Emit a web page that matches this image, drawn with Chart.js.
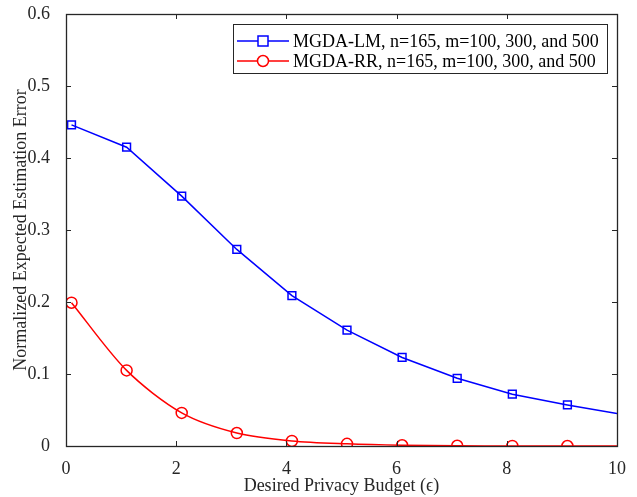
<!DOCTYPE html>
<html>
<head>
<meta charset="utf-8">
<script src="https://cdn.jsdelivr.net/npm/chart.js@4.4.1/dist/chart.umd.min.js"></script>
<style>
  html, body { margin: 0; padding: 0; background: #fff; }
  #wrap { width: 637px; height: 497px; }
</style>
</head>
<body>
<div id="wrap"><canvas id="errChart" width="637" height="497"></canvas></div>
<script>
// privacy budget values (markers every 1.0, line continues to 10)
const budgets = [0.1, 1.1, 2.1, 3.1, 4.1, 5.1, 6.1, 7.1, 8.1, 9.1, 10];
const lmError = [0.446, 0.415, 0.347, 0.273, 0.209, 0.161, 0.123, 0.094, 0.072, 0.057, 0.045];
const rrError = [0.199, 0.105, 0.046, 0.018, 0.007, 0.003, 0.001, 0.0003, 0.0001, 0.0, 0.0];
const xTicks = [0, 2, 4, 6, 8, 10];
const yTicks = [0, 0.1, 0.2, 0.3, 0.4, 0.5, 0.6];
const seriesLabels = [
  'MGDA-LM, n=165, m=100, 300, and 500',
  'MGDA-RR, n=165, m=100, 300, and 500'
];

const serif = "'Liberation Serif', 'Times New Roman', serif";
const axisColor = '#262626';

function toPoints(xs, ys) {
  return xs.map((x, i) => ({ x: x, y: ys[i] }));
}
// no marker on the final segment end
const radii = budgets.map((b, i) => (i === budgets.length - 1 ? 0 : 5.5));

// box + inward ticks, MATLAB style
const boxPlugin = {
  id: 'boxTicks',
  afterDraw(chart) {
    const { ctx, chartArea: a, scales } = chart;
    ctx.save();
    ctx.strokeStyle = axisColor;
    ctx.lineWidth = 1;
    const len = 5;
    ctx.beginPath();
    xTicks.forEach(v => {
      const px = Math.round(scales.x.getPixelForValue(v)) + 0.5;
      ctx.moveTo(px, a.bottom); ctx.lineTo(px, a.bottom - len);
      ctx.moveTo(px, a.top); ctx.lineTo(px, a.top + len);
    });
    yTicks.forEach(v => {
      const py = Math.round(scales.y.getPixelForValue(v)) + 0.5;
      ctx.moveTo(a.left, py); ctx.lineTo(a.left + len, py);
      ctx.moveTo(a.right, py); ctx.lineTo(a.right - len, py);
    });
    ctx.stroke();
    ctx.lineWidth = 1.3;
    ctx.strokeRect(Math.round(a.left) + 0.5, Math.round(a.top) + 0.5,
      Math.round(a.right - a.left), Math.round(a.bottom - a.top));

    // legend box
    const lx = 233, ly = 24, lw = 374, lh = 49;
    ctx.fillStyle = '#fff';
    ctx.fillRect(lx, ly, lw, lh);
    ctx.lineWidth = 1;
    ctx.strokeStyle = axisColor;
    ctx.strokeRect(lx + 0.5, ly + 0.5, lw, lh);
    chart.data.datasets.forEach((ds, i) => {
      const cy = ly + 17 + i * 20;
      ctx.strokeStyle = ds.borderColor;
      ctx.lineWidth = 1.5;
      ctx.beginPath();
      ctx.moveTo(lx + 4, cy); ctx.lineTo(lx + 56, cy);
      ctx.stroke();
      ctx.beginPath();
      if (ds.pointStyle === 'rect') {
        ctx.rect(lx + 25, cy - 5, 10, 10);
      } else {
        ctx.arc(lx + 30, cy, 5.5, 0, Math.PI * 2);
      }
      ctx.fillStyle = '#fff';
      ctx.fill();
      ctx.stroke();
      ctx.fillStyle = '#000';
      ctx.font = '18px ' + serif;
      ctx.textBaseline = 'middle';
      ctx.fillText(ds.label, lx + 60, cy + 1);
    });
    ctx.restore();
  }
};

new Chart(document.getElementById('errChart'), {
  type: 'line',
  data: {
    datasets: [{
      label: seriesLabels[0],
      data: toPoints(budgets, lmError),
      borderColor: '#0000ff',
      backgroundColor: 'rgba(0,0,0,0)',
      borderWidth: 1.5,
      pointStyle: 'rect',
      pointRadius: radii,
      pointBorderWidth: 1.5,
      pointBackgroundColor: 'rgba(0,0,0,0)',
      tension: 0
    }, {
      label: seriesLabels[1],
      data: toPoints(budgets, rrError),
      borderColor: '#ff0000',
      backgroundColor: 'rgba(0,0,0,0)',
      borderWidth: 1.5,
      pointStyle: 'circle',
      pointRadius: radii,
      pointBorderWidth: 1.5,
      pointBackgroundColor: 'rgba(0,0,0,0)',
      tension: 0.3
    }]
  },
  options: {
    responsive: false,
    animation: false,
    layout: { autoPadding: false, padding: { left: 0, right: 20, top: 14, bottom: 0 } },
    plugins: {
      legend: { display: false },
      tooltip: { enabled: false }
    },
    scales: {
      x: {
        type: 'linear',
        min: 0, max: 10,
        afterBuildTicks: s => { s.ticks = xTicks.map(v => ({ value: v })); },
        afterFit: s => { s.height = 51; },
        grid: { display: false },
        border: { display: false },
        ticks: { color: axisColor, font: { family: serif, size: 18 }, padding: 4, maxRotation: 0 },
        title: {
          display: true,
          text: 'Desired Privacy Budget (ϵ)',
          color: axisColor,
          font: { family: serif, size: 18 },
          padding: { top: 0, bottom: 0 }
        }
      },
      y: {
        min: 0, max: 0.6,
        afterBuildTicks: s => { s.ticks = yTicks.map(v => ({ value: v })); },
        afterFit: s => { s.width = 66; s.paddingTop = 0; s.paddingBottom = 0; },
        grid: { display: false },
        border: { display: false },
        ticks: {
          color: axisColor,
          font: { family: serif, size: 18 },
          padding: 8,
          callback: v => (v === 0 ? '0' : v.toFixed(1))
        },
        title: {
          display: true,
          text: 'Normalized Expected Estimation Error',
          color: axisColor,
          font: { family: serif, size: 18 },
          padding: { top: 10, bottom: 0 }
        }
      }
    }
  },
  plugins: [boxPlugin]
});
</script>
</body>
</html>
